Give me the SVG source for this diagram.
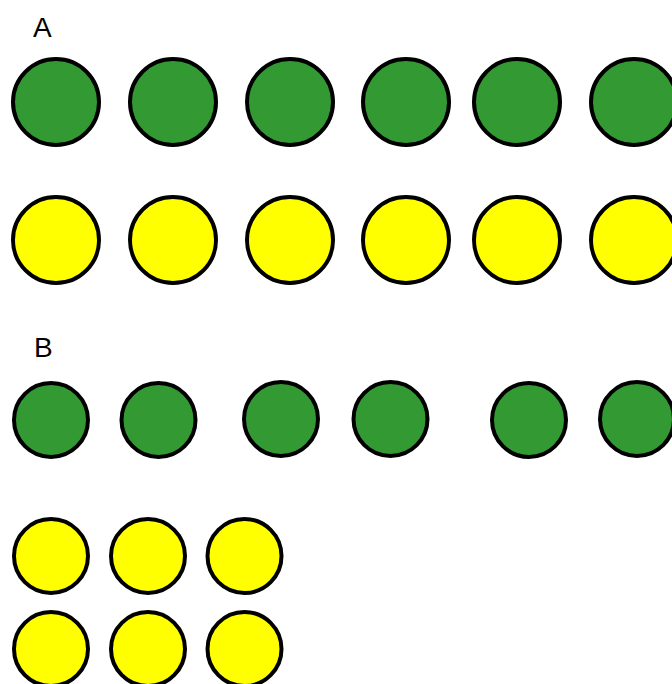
<svg xmlns="http://www.w3.org/2000/svg" width="672" height="684" viewBox="0 0 672 684">
<style>
.g{fill:#339933;stroke:#000;stroke-width:4}
.y{fill:#ffff00;stroke:#000;stroke-width:4}
.lbl{font-family:"Liberation Sans",Arial,sans-serif;font-size:28px;fill:#000}
</style>
<rect width="672" height="684" fill="#fff"/>
<g id="labelA"><text class="lbl" x="33" y="37">A</text></g>
<g id="rowA-green">
<circle class="g" cx="56" cy="102" r="43"/>
<circle class="g" cx="173" cy="102" r="43"/>
<circle class="g" cx="290" cy="102" r="43"/>
<circle class="g" cx="406" cy="102" r="43"/>
<circle class="g" cx="517" cy="102" r="43"/>
<circle class="g" cx="634" cy="102" r="43"/>
</g>
<g id="rowA-yellow">
<circle class="y" cx="56" cy="240" r="43"/>
<circle class="y" cx="173" cy="240" r="43"/>
<circle class="y" cx="290" cy="240" r="43"/>
<circle class="y" cx="406" cy="240" r="43"/>
<circle class="y" cx="517" cy="240" r="43"/>
<circle class="y" cx="634" cy="240" r="43"/>
</g>
<g id="labelB"><text class="lbl" x="34" y="357">B</text></g>
<g id="rowB-green">
<circle class="g" cx="51" cy="420" r="37"/>
<circle class="g" cx="158.5" cy="420" r="37"/>
<circle class="g" cx="281" cy="419" r="37"/>
<circle class="g" cx="390.5" cy="419" r="37"/>
<circle class="g" cx="529" cy="420" r="37"/>
<circle class="g" cx="637" cy="419" r="37"/>
</g>
<g id="gridB-yellow">
<circle class="y" cx="51" cy="556" r="37"/>
<circle class="y" cx="148" cy="556" r="37"/>
<circle class="y" cx="244.5" cy="556" r="37"/>
<circle class="y" cx="51" cy="649" r="37"/>
<circle class="y" cx="148" cy="649" r="37"/>
<circle class="y" cx="244.5" cy="649" r="37"/>
</g>
</svg>
